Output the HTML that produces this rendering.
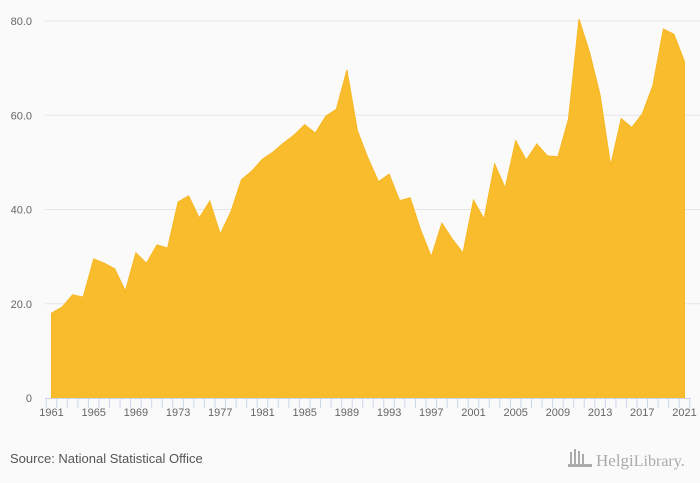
<!DOCTYPE html>
<html><head><meta charset="utf-8"><style>
body{margin:0;background:#fafafa;font-family:"Liberation Sans",sans-serif;}
svg{display:block}
</style></head><body>
<svg width="700" height="483">
<rect width="700" height="483" fill="#fafafa"/>
<g id="grid"></g><g id="area"></g><g id="axis"></g>
<text x="10" y="463" font-size="13" fill="#555">Source: National Statistical Office</text>
<g>
<rect x="570" y="452" width="2" height="14" fill="#aaa"/><rect x="574" y="449" width="2" height="17" fill="#aaa"/><rect x="578" y="451" width="2" height="15" fill="#aaa"/><rect x="582" y="454" width="2" height="12" fill="#aaa"/><rect x="568" y="464" width="24" height="3" fill="#aaa"/>
<text x="596" y="466" font-size="17" fill="#aaa" font-family="Liberation Serif,serif">Helgi<tspan font-size="16">Library.</tspan></text>
</g>
</svg>
<script>
const years=[];for(let y=1961;y<=2021;y++)years.push(y);
const values=[18.0,19.3,21.9,21.4,29.5,28.6,27.4,22.7,30.8,28.6,32.5,31.8,41.6,42.9,38.2,41.8,34.8,39.5,46.3,48.2,50.7,52.2,54.1,55.8,58.0,56.2,59.8,61.3,69.6,56.7,50.9,45.9,47.5,41.9,42.5,35.6,30.0,37.1,33.7,30.8,42.0,38.0,49.7,44.6,54.6,50.5,53.9,51.4,51.2,59.2,80.4,73.4,64.3,49.4,59.3,57.4,60.3,66.3,78.3,77.2,71.4];
const yTicks=[0,20,40,60,80];
const yTickLabels=["0","20.0","40.0","60.0","80.0"];
const xLabelYears=[1961,1965,1969,1973,1977,1981,1985,1989,1993,1997,2001,2005,2009,2013,2017,2021];
const NS="http://www.w3.org/2000/svg";
const x=yr=>51.5+(yr-1961)*10.55;
const y=v=>398-v*4.7125;
function mk(tag,attrs,parent){const e=document.createElementNS(NS,tag);for(const k in attrs)e.setAttribute(k,attrs[k]);document.getElementById(parent).appendChild(e);return e;}
yTicks.forEach((t,i)=>{
 if(t>0){const l=mk('line',{x1:45,x2:700,y1:y(t),y2:y(t),stroke:'#e6e6e6','stroke-width':1},'grid');
 
 }
 const tx=mk('text',{x:32,y:y(t)+4,'font-size':11,fill:'#666','text-anchor':'end'},'grid');
 tx.textContent=yTickLabels[i];
 
 
});
let d='M'+x(years[0])+','+y(0);
years.forEach((yr,i)=>{d+=' L'+x(yr)+','+y(values[i]);});
d+=' L'+x(years[years.length-1])+','+y(0)+' Z';
const p=mk('path',{d:d,fill:'#f9bc2d',stroke:'#f7b825','stroke-width':1},'area');


const ax=mk('line',{x1:45,x2:691,y1:398.5,y2:398.5,stroke:'#ccd6eb'},'axis');


for(let i=0;i<=61;i++){const xx=x(1961)-5.3+i*10.55;
 const tk=mk('line',{x1:xx,x2:xx,y1:398,y2:408,stroke:'#ccd6eb'},'axis');
 
 }
xLabelYears.forEach(yr=>{const t=mk('text',{x:x(yr),y:416,'font-size':11,fill:'#666','text-anchor':'middle'},'axis');
 t.textContent=yr;
 
 });
</script>
</body></html>
